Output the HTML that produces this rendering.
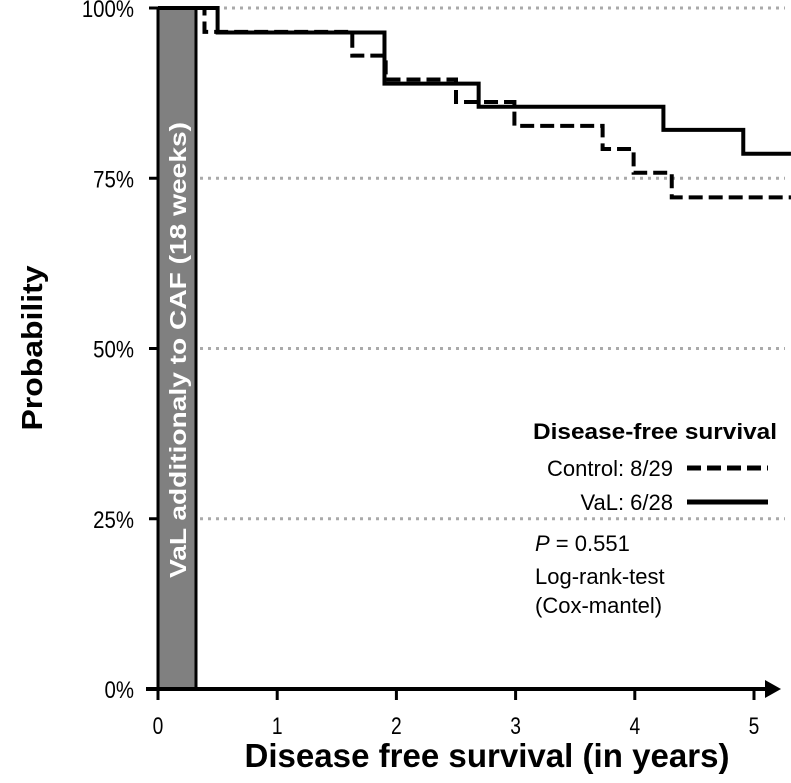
<!DOCTYPE html>
<html><head><meta charset="utf-8"><style>
html,body{margin:0;padding:0;background:#fff;}
svg{display:block;font-family:"Liberation Sans",Arial,sans-serif;}
.tick{font-size:24px;}
</style></head><body>
<svg id="chart" width="791" height="783" viewBox="0 0 791 783">
<g id="grid"></g>
<rect x="158" y="8" width="38" height="681" fill="#808080" stroke="#000" stroke-width="3"/>
<text transform="translate(186,350) rotate(-90)" text-anchor="middle" fill="#fff" font-weight="bold" font-size="23" textLength="456" lengthAdjust="spacingAndGlyphs">VaL additionaly to CAF (18 weeks)</text>
<g id="yaxis"></g>
<g id="xaxis"></g>
<g id="series"></g>
<text transform="translate(42,348) rotate(-90)" text-anchor="middle" font-weight="bold" font-size="29" textLength="165" lengthAdjust="spacingAndGlyphs">Probability</text>
<text x="487" y="767" text-anchor="middle" font-weight="bold" font-size="33" textLength="485" lengthAdjust="spacingAndGlyphs">Disease free survival (in years)</text>
<g>
<text x="533" y="439" font-weight="bold" font-size="22" textLength="244" lengthAdjust="spacingAndGlyphs">Disease-free survival</text>
<text x="673" y="476" text-anchor="end" font-size="22">Control: 8/29</text>
<line x1="687" y1="468" x2="768" y2="468" stroke="#000" stroke-width="5" stroke-dasharray="14,6"/>
<text x="673" y="510" text-anchor="end" font-size="22">VaL: 6/28</text>
<line x1="687" y1="502" x2="768" y2="502" stroke="#000" stroke-width="5"/>
<text x="535" y="551" font-size="22"><tspan font-style="italic">P</tspan> = 0.551</text>
<text x="535" y="584" font-size="22">Log-rank-test</text>
<text x="535" y="613" font-size="22">(Cox-mantel)</text>
</g>
</svg>
<script>
const xTicks=[0,1,2,3,4,5];
const yTicks=[0,25,50,75,100];
const valTimes=[0,0.50,1.90,2.69,4.24,4.91,5.31];
const valSurv=[100,96.4,88.9,85.5,82.1,78.6,78.6];
const ctrlTimes=[0,0.39,1.63,1.91,2.50,2.99,3.73,3.99,4.31,5.31];
const ctrlSurv=[100,96.5,93.0,89.5,86.2,82.7,79.3,75.8,72.2,72.2];
const NS="http://www.w3.org/2000/svg";
function sx(t){return 158+t*119.2;}
function sy(p){return 689-p*6.81;}
function mk(tag,attrs,parent){const e=document.createElementNS(NS,tag);for(const k in attrs)e.setAttribute(k,attrs[k]);parent.appendChild(e);return e;}
const grid=document.getElementById('grid'),ya=document.getElementById('yaxis'),xa=document.getElementById('xaxis'),ser=document.getElementById('series');
yTicks.forEach(v=>{
 if(v>0){const g=mk('line',{x1:200,x2:785,y1:sy(v),y2:sy(v),stroke:'#aaa','stroke-width':3,'stroke-dasharray':'3,5'},grid);
 
 }
 const t=mk('line',{x1:149,x2:158,y1:sy(v),y2:sy(v),stroke:'#000','stroke-width':3},ya);
 
 
 const l=mk('text',{x:0,y:0,'class':'tick','text-anchor':'end',transform:'translate(134,'+(sy(v)+9)+') scale(0.85,1)'},ya);l.textContent=v+'%';
 
 
});
const ax=mk('line',{x1:146,x2:770,y1:689,y2:689,stroke:'#000','stroke-width':4},xa);


const ar=mk('polygon',{points:'765,680 781,689 765,698',fill:'#000'},xa);


xTicks.forEach(v=>{
 const t=mk('line',{x1:sx(v),x2:sx(v),y1:689,y2:700,stroke:'#000','stroke-width':3},xa);
 
 
 const l=mk('text',{x:0,y:0,'class':'tick','text-anchor':'middle',transform:'translate('+sx(v)+',734) scale(0.8,1)'},xa);l.textContent=v;
 
 
});
function stepPath(ts,ss){let d='M'+sx(ts[0])+','+sy(ss[0]);for(let i=1;i<ts.length;i++){d+=' H'+sx(ts[i])+' V'+sy(ss[i]);}return d;}
const c=mk('path',{d:stepPath(ctrlTimes,ctrlSurv),fill:'none',stroke:'#000','stroke-width':4,'stroke-dasharray':'14,6'},ser);


const s=mk('path',{d:stepPath(valTimes,valSurv),fill:'none',stroke:'#000','stroke-width':4},ser);


</script>
</body></html>
